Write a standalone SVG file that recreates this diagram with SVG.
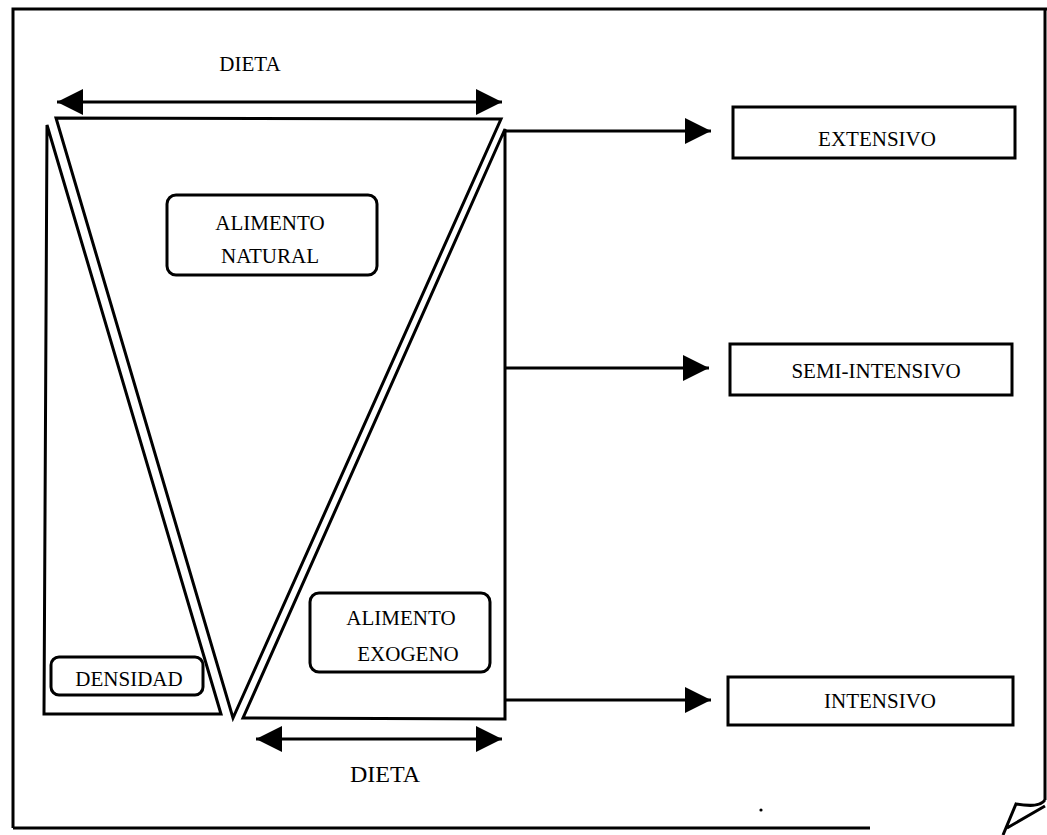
<svg xmlns="http://www.w3.org/2000/svg" width="1047" height="835" viewBox="0 0 1047 835">
<style>
.ln{fill:none;stroke:#000;stroke-width:3;stroke-linejoin:miter}
.bx{fill:#fff;stroke:#000;stroke-width:3}
.t{font-family:"Liberation Serif","Times New Roman",serif;font-size:21px;fill:#000;text-anchor:middle}
.tb{font-family:"Liberation Serif","Times New Roman",serif;font-size:24px;fill:#000;text-anchor:middle}
</style>
<defs>
<marker id="ah" markerUnits="userSpaceOnUse" markerWidth="26" markerHeight="26" refX="26" refY="13" orient="auto-start-reverse">
<path d="M0,0 L26,13 L0,26 z" fill="#000"/>
</marker>
</defs>
<rect width="1047" height="835" fill="#fff"/>
<g id="frame">
<path class="ln" d="M13,828 V9 H1047 M1045,9 V800"/>
<path class="ln" d="M13,828 H870"/>
<path class="ln" d="M1045,800 C1040,807 1028,806 1016,804 L1003,835 M1007,828 L1045,806"/>
<circle cx="761" cy="810" r="1.6" fill="#000"/>
</g>
<g id="shapes">
<path id="left-triangle" class="ln" d="M47,125 L44,714 L221,714 Z"/>
<path id="v-shape" class="ln" d="M56,118 L501,119 L233,718 Z"/>
<path id="right-shape" class="ln" d="M505,129 L505,719 L243,718 Z"/>
</g>
<g id="connectors">
<line class="ln" x1="57" y1="102" x2="502" y2="102" marker-start="url(#ah)" marker-end="url(#ah)"/>
<line class="ln" x1="256" y1="739" x2="502" y2="739" marker-start="url(#ah)" marker-end="url(#ah)"/>
<line class="ln" x1="505" y1="131" x2="711" y2="131" marker-end="url(#ah)"/>
<line class="ln" x1="505" y1="368" x2="709" y2="368" marker-end="url(#ah)"/>
<line class="ln" x1="505" y1="700" x2="711" y2="700" marker-end="url(#ah)"/>
</g>
<g id="label-dieta-top"><text class="t" x="250" y="71">DIETA</text></g>
<g id="label-dieta-bottom"><text class="tb" x="385" y="782">DIETA</text></g>
<g id="alimento-natural">
<rect class="bx" x="167" y="195" width="210" height="80" rx="9"/>
<text class="t" x="270" y="230">ALIMENTO</text>
<text class="t" x="270" y="263">NATURAL</text>
</g>
<g id="alimento-exogeno">
<rect class="bx" x="310" y="593" width="180" height="79" rx="9"/>
<text class="t" x="401" y="625">ALIMENTO</text>
<text class="t" x="408" y="661">EXOGENO</text>
</g>
<g id="densidad">
<rect class="bx" x="51" y="657" width="152" height="38" rx="8"/>
<text class="t" x="129" y="686">DENSIDAD</text>
</g>
<g id="extensivo">
<rect class="bx" x="733" y="107" width="282" height="51"/>
<text class="t" x="877" y="146">EXTENSIVO</text>
</g>
<g id="semi-intensivo">
<rect class="bx" x="730" y="344" width="282" height="51"/>
<text class="t" x="876" y="378">SEMI-INTENSIVO</text>
</g>
<g id="intensivo">
<rect class="bx" x="728" y="677" width="285" height="48"/>
<text class="t" x="880" y="708">INTENSIVO</text>
</g>
</svg>
